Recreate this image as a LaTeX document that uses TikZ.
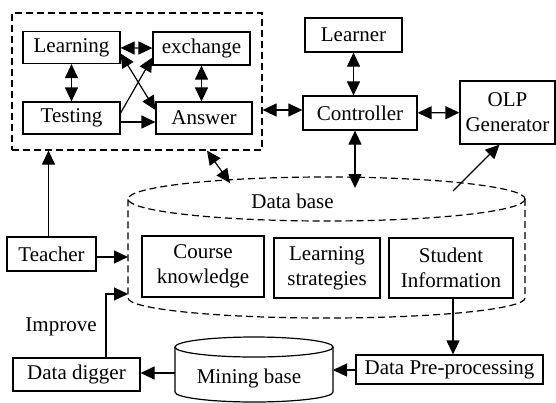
\documentclass[tikz,border=0pt]{standalone}
\usepackage{fontspec}
\setmainfont{Liberation Serif}
\usetikzlibrary{arrows.meta}

\begin{document}
\begin{tikzpicture}
[x=1pt, y=-1pt, line width=1.2pt, >={Triangle[length=14pt,width=13pt]},
 every node/.style={font=\fontsize{21}{25}\selectfont, align=center, inner sep=0pt},
 box/.style={draw, rectangle},
 dashline/.style={dash pattern=on 7pt off 4pt}]
\useasboundingbox (0,0) rectangle (556,402);

% system frame
\node[draw, dashline, minimum width=250pt, minimum height=137pt] (frame) at (137,81.5) {};
\node[box, minimum width=97pt, minimum height=32pt] (learning) at (71.5,47.5) {Learning};
\node[box, minimum width=97pt, minimum height=33pt] (exchange) at (201.5,48.5) {exchange};
\node[box, minimum width=97pt, minimum height=32pt] (testing) at (71.5,118) {Testing};
\node[box, minimum width=96pt, minimum height=32pt] (answer) at (204,118) {Answer};

\node[box, minimum width=97pt, minimum height=34pt] (learner) at (353.5,35) {Learner};
\node[box, minimum width=114pt, minimum height=34pt] (controller) at (360,113) {Controller};
\node[box, minimum width=95pt, minimum height=63pt] (olp) at (507.5,112.5) {OLP\\Generator};

% data base
\draw[dashline] (326.5,199) ellipse[x radius=198.5, y radius=22];
\draw[dashline] (525,199) -- (525,298) arc[start angle=0, end angle=180, x radius=198.5, y radius=20] -- (128,199);
\node (database) at (292.5,201.5) {Data base};
\node[box, minimum width=122pt, minimum height=61pt] (course) at (203,266.5) {Course\\knowledge};
\node[box, minimum width=106pt, minimum height=60pt] (strategies) at (327,268) {Learning\\strategies};
\node[box, minimum width=124pt, minimum height=60pt] (student) at (451,268) {Student\\Information};

\node[box, minimum width=89pt, minimum height=34pt] (teacher) at (51.5,254) {Teacher};
\node[box, minimum width=127pt, minimum height=33pt] (digger) at (76.5,374.5) {Data digger};
\node[box, minimum width=187pt, minimum height=29pt] (prep) at (449.5,369.5) {Data Pre-processing};
\node (improve) at (61,327) {Improve};

% mining base
\draw (254,347) ellipse[x radius=79, y radius=10];
\draw (333,347) -- (333,392) arc[start angle=0, end angle=180, x radius=79, y radius=10] -- (175,347);
\node (mining) at (249,378) {Mining base};

\coordinate (dbc) at (355,188);
\coordinate (dbl) at (230,183);
\coordinate (dbo) at (453,191);
\coordinate (dbw) at (128,257);
\coordinate (dbi) at (128,294);
\coordinate (mbr) at (333,370);
\coordinate (mbl) at (175,373);

\foreach \from/\to in {learning/exchange, controller/olp}
	\draw[<->] (\from) -- (\to);
\draw[<->] (learning) -- (testing);
\draw[<->] (exchange.south) -- (exchange.south |- answer.north);
\draw[->] ([yshift=-4pt]testing.east) -- ([yshift=-4pt]answer.west);
\draw[->] ([yshift=5pt]testing.east) -- ([yshift=-9pt]exchange.west);
\draw[<->] ([yshift=-6pt]learning.east) -- ([yshift=8pt]answer.west);

\draw[<->] ([yshift=3pt]frame.east |- controller.west) -- ([yshift=3pt]controller.west);
\draw[<->] (learner.south) -- (learner.south |- controller.north);
\draw[<->] (controller.south -| dbc) -- (dbc);
\draw[<->] ([xshift=70pt]frame.south) -- (dbl);
\draw[->] (dbo) -- ([xshift=-8pt]olp.south);

\draw[->] ([xshift=-3pt]teacher.north) -- ([xshift=-3pt]teacher.north |- frame.south);
\draw[->] (teacher.east |- dbw) -- (dbw);
\draw[->] ([xshift=29.5pt]digger.north) |- (dbi);
\draw[->] ([xshift=2pt]student.south) -- ([xshift=2pt]student.south |- prep.north);
\draw[->] (prep.west |- mbr) -- (mbr);
\draw[->] (mbl) -- (digger.east |- mbl);
\end{tikzpicture}
\end{document}
